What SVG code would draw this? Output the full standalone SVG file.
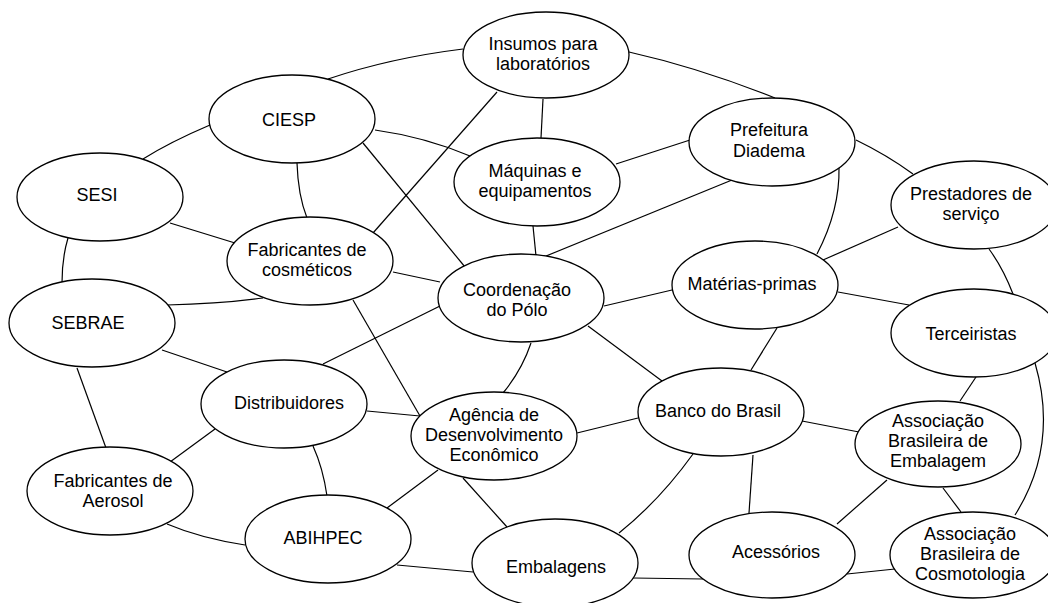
<svg xmlns="http://www.w3.org/2000/svg" width="1048" height="603" viewBox="0 0 1048 603">
<style>
.e{fill:#fff;stroke:#000;stroke-width:1.3}
.c path{fill:none;stroke:#000;stroke-width:1.2}
text{font-family:"Liberation Sans",Arial,sans-serif;font-size:18px;fill:#000;text-anchor:middle}
</style>
<rect width="1048" height="603" fill="#fff"/>
<g id="connectors" class="c">
<path d="M328,79 Q390,58 463,49"/>
<path d="M629,52 Q700,68 775,98"/>
<path d="M543,99 L541,138"/>
<path d="M497,92 L373,233"/>
<path d="M210,125 Q170,142 143,159"/>
<path d="M297,163 Q298,195 307,218"/>
<path d="M375,130 Q425,137 470,156"/>
<path d="M363,143 L465,267"/>
<path d="M616,164 L690,140"/>
<path d="M533,226 L536,256"/>
<path d="M546,256 L732,180"/>
<path d="M839,167 Q840,210 817,254"/>
<path d="M856,140 Q887,155 913,174"/>
<path d="M898,227 L823,260"/>
<path d="M989,249 Q1003,268 1013,294"/>
<path d="M838,292 L909,305"/>
<path d="M604,306 L672,290"/>
<path d="M777,328 L751,370"/>
<path d="M588,326 L662,381"/>
<path d="M531,343 Q522,370 503,393"/>
<path d="M440,306 L323,364"/>
<path d="M393,272 L440,282"/>
<path d="M170,223 L235,243"/>
<path d="M263,298 Q220,304 167,305"/>
<path d="M353,300 L420,416"/>
<path d="M68,238 Q62,258 62,283"/>
<path d="M162,350 L227,372"/>
<path d="M77,368 L106,448"/>
<path d="M367,411 L420,416"/>
<path d="M215,429 L170,462"/>
<path d="M313,446 Q323,468 327,496"/>
<path d="M167,524 Q200,538 245,545"/>
<path d="M387,508 L438,470"/>
<path d="M397,565 L473,572"/>
<path d="M463,478 L507,527"/>
<path d="M577,433 L638,418"/>
<path d="M693,454 Q660,500 619,533"/>
<path d="M753,455 L749,513"/>
<path d="M802,421 L859,432"/>
<path d="M633,578 L703,579"/>
<path d="M837,524 L887,480"/>
<path d="M847,574 L895,569"/>
<path d="M943,488 L961,512"/>
<path d="M960,401 L976,377"/>
<path d="M1035,363 Q1059,445 1015,515"/>
</g>
<g id="insumos"><ellipse class="e" cx="546" cy="55" rx="83" ry="43"/><text x="543" y="50">Insumos para</text><text x="543" y="70">laboratórios</text></g>
<g id="ciesp"><ellipse class="e" cx="292" cy="119" rx="83" ry="44"/><text x="289" y="126">CIESP</text></g>
<g id="sesi"><ellipse class="e" cx="100" cy="197" rx="83" ry="44"/><text x="97" y="201">SESI</text></g>
<g id="maquinas"><ellipse class="e" cx="537" cy="182" rx="83" ry="44"/><text x="535" y="177">Máquinas e</text><text x="535" y="197">equipamentos</text></g>
<g id="prefeitura"><ellipse class="e" cx="772" cy="142" rx="83" ry="44"/><text x="769" y="136">Prefeitura</text><text x="769" y="157">Diadema</text></g>
<g id="prestadores"><ellipse class="e" cx="974" cy="205" rx="83" ry="44"/><text x="971" y="200">Prestadores de</text><text x="971" y="220">serviço</text></g>
<g id="fabricantes-cosmeticos"><ellipse class="e" cx="310" cy="261" rx="83" ry="44"/><text x="307" y="256">Fabricantes de</text><text x="307" y="276">cosméticos</text></g>
<g id="coordenacao"><ellipse class="e" cx="521" cy="298" rx="83" ry="44"/><text x="517" y="296">Coordenação</text><text x="517" y="316">do Pólo</text></g>
<g id="materias-primas"><ellipse class="e" cx="755" cy="285" rx="83" ry="44"/><text x="752" y="290">Matérias-primas</text></g>
<g id="sebrae"><ellipse class="e" cx="92" cy="323" rx="83" ry="44"/><text x="88" y="329">SEBRAE</text></g>
<g id="terceiristas"><ellipse class="e" cx="974" cy="333" rx="83" ry="44"/><text x="971" y="340">Terceiristas</text></g>
<g id="distribuidores"><ellipse class="e" cx="284" cy="404" rx="83" ry="44"/><text x="289" y="409">Distribuidores</text></g>
<g id="agencia"><ellipse class="e" cx="494" cy="436" rx="83" ry="44"/><text x="494" y="421">Agência de</text><text x="494" y="441">Desenvolvimento</text><text x="494" y="461">Econômico</text></g>
<g id="banco-do-brasil"><ellipse class="e" cx="721" cy="412" rx="83" ry="44"/><text x="718" y="417">Banco do Brasil</text></g>
<g id="abembalagem"><ellipse class="e" cx="938" cy="444" rx="83" ry="43"/><text x="938" y="427">Associação</text><text x="938" y="447">Brasileira de</text><text x="938" y="467">Embalagem</text></g>
<g id="fabricantes-aerosol"><ellipse class="e" cx="110" cy="491" rx="83" ry="44"/><text x="113" y="487">Fabricantes de</text><text x="113" y="507">Aerosol</text></g>
<g id="abihpec"><ellipse class="e" cx="328" cy="539" rx="83" ry="44"/><text x="323" y="544">ABIHPEC</text></g>
<g id="embalagens"><ellipse class="e" cx="555" cy="563" rx="83" ry="44"/><text x="556" y="573">Embalagens</text></g>
<g id="acessorios"><ellipse class="e" cx="772" cy="555" rx="83" ry="43"/><text x="776" y="558">Acessórios</text></g>
<g id="abcosmetologia"><ellipse class="e" cx="973" cy="555" rx="83" ry="43"/><text x="970" y="540">Associação</text><text x="970" y="560">Brasileira de</text><text x="970" y="580">Cosmotologia</text></g>
</svg>
